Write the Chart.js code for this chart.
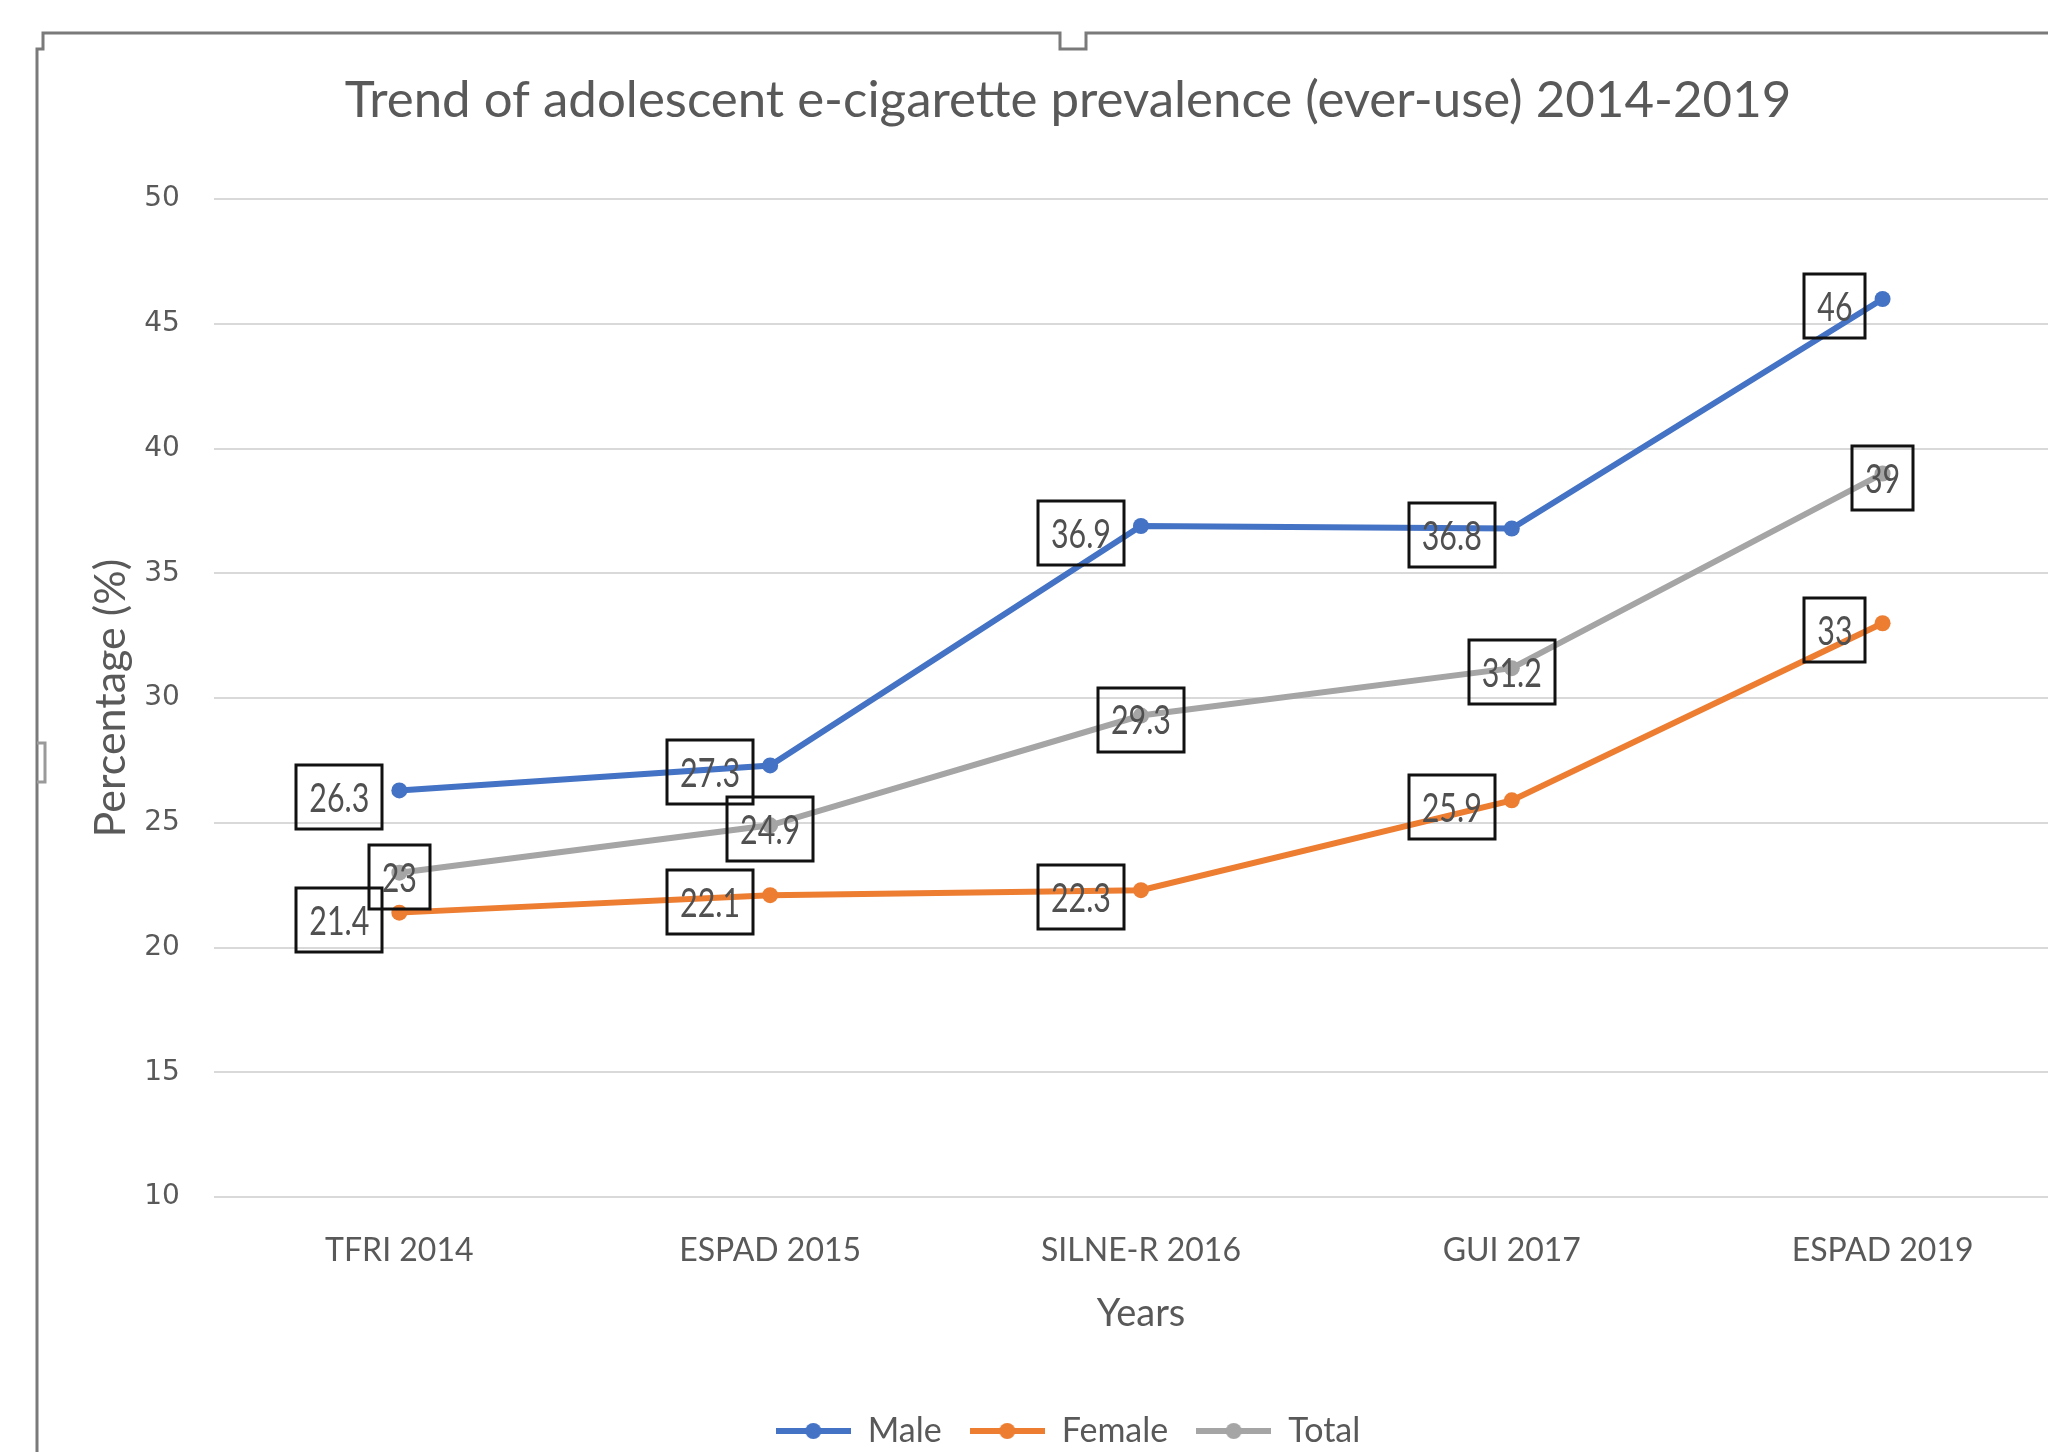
<!DOCTYPE html>
<html>
<head>
<meta charset="utf-8">
<title>Adolescent e-cigarette prevalence</title>
<script src="https://cdn.jsdelivr.net/npm/chart.js@4.4.1/dist/chart.umd.min.js"></script>
<style>
  html, body { margin: 0; padding: 0; background: #fff; overflow: hidden; }
  #wrap { position: relative; width: 2080px; height: 1452px; }
</style>
</head>
<body>
<div id="wrap"><canvas id="trendChart"></canvas></div>
<script>
// survey / year categories
const surveys = ['TFRI 2014', 'ESPAD 2015', 'SILNE-R 2016', 'GUI 2017', 'ESPAD 2019'];
// ever-use prevalence (%)
const male = [26.3, 27.3, 36.9, 36.8, 46];
const female = [21.4, 22.1, 22.3, 25.9, 33];
const total = [23, 24.9, 29.3, 31.2, 39];
const yTicks = [10, 15, 20, 25, 30, 35, 40, 45, 50];

const grey = '#595959';
const fontFam = 'Lato, "Noto Sans", sans-serif';

// little line-with-dot marker for the legend
function legendMarker(color) {
  const c = document.createElement('canvas');
  c.width = 75; c.height = 18;
  const g = c.getContext('2d');
  g.strokeStyle = color;
  g.lineWidth = 6;
  g.beginPath(); g.moveTo(0, 9); g.lineTo(75, 9); g.stroke();
  g.fillStyle = color;
  g.beginPath(); g.arc(37.5, 9, 8, 0, Math.PI * 2); g.fill();
  return c;
}

// boxed value labels, placed next to each point (text squeezed like the original)
const boxLabels = {
  id: 'boxLabels',
  afterDatasetsDraw(chart, args, opts) {
    const ctx = chart.ctx;
    ctx.save();
    ctx.font = opts.font;
    ctx.textAlign = 'center';
    ctx.textBaseline = 'middle';
    ctx.lineWidth = 3;
    ctx.strokeStyle = '#111';
    ctx.fillStyle = '#505050';
    chart.data.datasets.forEach((ds, di) => {
      const meta = chart.getDatasetMeta(di);
      meta.data.forEach((pt, i) => {
        const txt = String(ds.data[i]);
        const w = ctx.measureText(txt).width * opts.squeeze + opts.padX * 2;
        const h = opts.height;
        let cx = pt.x;
        let cy = pt.y + opts.dyCenter;
        if (ds.labelSide === 'left') {
          cx = pt.x - opts.gap - w / 2;
          cy = pt.y + opts.dy;
        }
        ctx.strokeRect(Math.round(cx - w / 2), Math.round(cy - h / 2), Math.round(w), h);
        ctx.save();
        ctx.translate(cx, cy + 2);
        ctx.scale(opts.squeeze, 1);
        ctx.fillText(txt, 0, 0);
        ctx.restore();
      });
    });
    ctx.restore();
  }
};

// excel-style selection frame round the chart
const frame = {
  id: 'frame',
  beforeDraw(chart) {
    const ctx = chart.ctx;
    ctx.save();
    ctx.strokeStyle = '#7a7a7a';
    ctx.lineWidth = 3;
    ctx.beginPath();
    ctx.moveTo(37, 1452); ctx.lineTo(37, 49); ctx.lineTo(43, 49); ctx.lineTo(43, 33);
    ctx.lineTo(1060, 33); ctx.lineTo(1060, 49); ctx.lineTo(1086, 49); ctx.lineTo(1086, 33);
    ctx.lineTo(2080, 33);
    ctx.stroke();
    ctx.strokeStyle = '#9a9a9a';
    ctx.beginPath();
    ctx.moveTo(37, 743); ctx.lineTo(45, 743); ctx.lineTo(45, 782); ctx.lineTo(37, 782);
    ctx.stroke();
    ctx.restore();
  }
};

new Chart(document.getElementById('trendChart'), {
  type: 'line',
  data: {
    labels: surveys,
    datasets: [
      { label: 'Male', data: male, borderColor: '#4472C4', backgroundColor: '#4472C4', labelSide: 'left' },
      { label: 'Female', data: female, borderColor: '#ED7D31', backgroundColor: '#ED7D31', labelSide: 'left' },
      { label: 'Total', data: total, borderColor: '#A5A5A5', backgroundColor: '#A5A5A5', labelSide: 'center' }
    ]
  },
  options: {
    responsive: true,
    maintainAspectRatio: false,
    animation: false,
    layout: { padding: { left: 68, right: 12, top: 0, bottom: -6 } },
    elements: {
      line: { borderWidth: 6, tension: 0 },
      point: { radius: 8, hoverRadius: 8, borderWidth: 0 }
    },
    scales: {
      x: {
        offset: true,
        grid: { display: false, drawTicks: false, offset: true },
        border: { display: false },
        ticks: { color: grey, font: { family: fontFam, size: 32 }, padding: 34 },
        // chart.js counts tick padding twice when fitting, so the title padding takes it back
        title: { display: true, text: 'Years', color: grey, font: { family: fontFam, size: 38 }, padding: { top: -12, bottom: 49 } }
      },
      y: {
        min: 10,
        max: 50,
        afterBuildTicks: s => { s.ticks = yTicks.map(v => ({ value: v })); },
        grid: { color: '#d9d9d9', lineWidth: 2, drawTicks: false },
        border: { display: false },
        ticks: { color: grey, font: { family: '"DejaVu Sans", sans-serif', size: 28 }, padding: 34 },
        title: { display: true, text: 'Percentage (%)', color: grey, font: { family: fontFam, size: 43, lineHeight: 1.1 }, padding: { top: 19, bottom: -24 } }
      }
    },
    plugins: {
      title: {
        display: true,
        text: 'Trend of adolescent e-cigarette prevalence (ever-use) 2014-2019',
        color: grey,
        font: { family: fontFam, size: 51, weight: 'normal' },
        padding: { top: 70, bottom: 68 }
      },
      legend: {
        position: 'bottom',
        labels: {
          usePointStyle: true,
          pointStyleWidth: 75,
          color: grey,
          font: { family: fontFam, size: 34 },
          padding: 28,
          generateLabels: chart => chart.data.datasets.map((ds, i) => ({
            text: ds.label,
            pointStyle: legendMarker(ds.borderColor),
            fillStyle: ds.borderColor,
            strokeStyle: ds.borderColor,
            lineWidth: 0,
            fontColor: grey,
            datasetIndex: i
          }))
        }
      },
      tooltip: { enabled: false },
      boxLabels: { font: '40px Lato, "Noto Sans", sans-serif', squeeze: 0.76, padX: 13, height: 64, gap: 17, dy: 7, dyCenter: 4 }
    }
  },
  plugins: [boxLabels, frame]
});
</script>
</body>
</html>
